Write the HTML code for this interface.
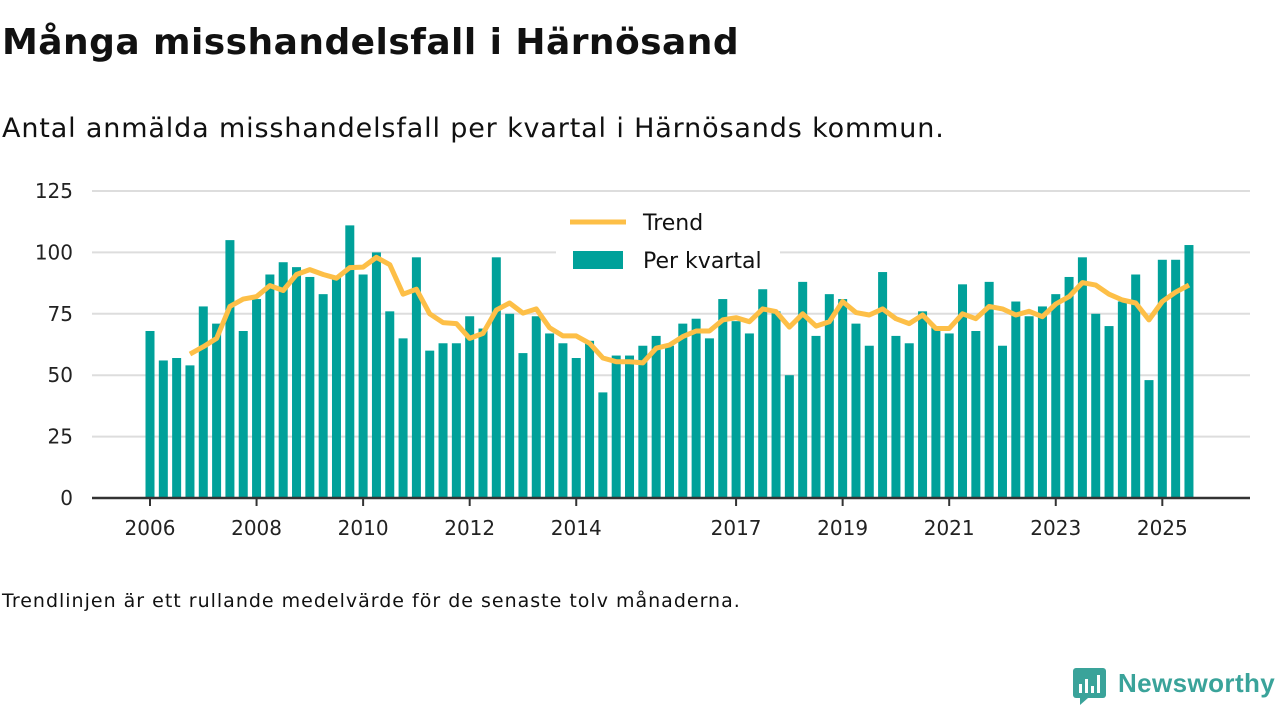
<!DOCTYPE html>
<html><head><meta charset="utf-8">
<style>
body{margin:0;background:#fff;width:1280px;height:720px;overflow:hidden;font-family:"DejaVu Sans","Liberation Sans",sans-serif;color:#111}
h1{position:absolute;left:2px;top:22px;margin:0;font-size:36px;font-weight:bold;letter-spacing:0.45px}
.sub{position:absolute;left:2px;top:113px;font-size:27px;letter-spacing:0.85px}
.note{position:absolute;left:2px;top:590px;font-size:19px;letter-spacing:1px}
.logo{position:absolute;left:1072px;top:666px}
.logo span{position:absolute;left:46px;top:2px;font-size:26px;font-weight:bold;color:#3aa39a;white-space:nowrap;font-family:"Liberation Sans",sans-serif;letter-spacing:0.4px}
</style></head><body>
<h1>Många misshandelsfall i Härnösand</h1>
<div class="sub">Antal anmälda misshandelsfall per kvartal i Härnösands kommun.</div>
<svg id="chart" width="1280" height="720" style="position:absolute;left:0;top:0"></svg>
<div class="note">Trendlinjen är ett rullande medelvärde för de senaste tolv månaderna.</div>
<div class="logo">
<svg width="36" height="40"><rect x="1" y="2" width="33" height="30" rx="3" fill="#3aa39a"/><path d="M8 32 L8 39 L16 32Z" fill="#3aa39a"/><rect x="7" y="18" width="3" height="9" fill="#fff"/><rect x="13" y="13" width="3" height="14" fill="#fff"/><rect x="19" y="20" width="3" height="7" fill="#fff"/><rect x="25" y="9" width="3" height="18" fill="#fff"/></svg>
<span>Newsworthy</span></div>
<script>
const values=[68,56,57,54,78,71,105,68,81,91,96,94,90,83,90,111,91,100,76,65,98,60,63,63,74,69,98,75,59,74,67,63,57,64,43,58,58,62,66,62,71,73,65,81,72,67,85,76,50,88,66,83,81,71,62,92,66,63,76,70,67,87,68,88,62,80,74,78,83,90,98,75,70,80,91,48,97,97,103];
const trendStart=3;
const trend=[58.6,61.6,65,78,81,82,86.5,84.5,91,93,91,89.5,93.8,94,98,95,83,85,75,71.4,71,65,67,76.5,79.4,75.3,77,69.3,66,66,63,57,55.5,55.5,55,61,62.3,65.7,68,68,72.5,73.4,71.8,77,75.9,69.6,75,70,71.8,80,75.5,74.5,77,73,71,74.5,69,69,75,73,78,77,74.5,76,73.8,79,82,87.7,86.7,83,80.6,79.4,72.5,80,83.8,86.7];
const yTicks=[0,25,50,75,100,125];
const xYears=[2006,2008,2010,2012,2014,2017,2019,2021,2023,2025];
const ns="http://www.w3.org/2000/svg",svg=document.getElementById('chart');
const x=i=>150+i*13.32, y=v=>498-v*2.456;
function mk(t,a){const e=document.createElementNS(ns,t);for(const k in a)e.setAttribute(k,a[k]);svg.appendChild(e);return e;}
yTicks.forEach(v=>{
 if(v>0){const g=mk('line',{x1:92,x2:1250,y1:y(v),y2:y(v),stroke:'#ddd','stroke-width':2});
 
 }
 const t=mk('text',{x:73,y:y(v)+7,'text-anchor':'end','font-size':20,fill:'#222'});t.textContent=v;
 
 
});
values.forEach((v,i)=>{const b=mk('rect',{x:x(i)-4.5,y:y(v),width:9,height:v*2.456,fill:'#00a19a'});
 
 });
const ax=mk('line',{x1:92,x2:1250,y1:498,y2:498,stroke:'#333','stroke-width':2.5});


xYears.forEach(yr=>{const i=(yr-2006)*4;
 const tk=mk('line',{x1:x(i),x2:x(i),y1:499,y2:506,stroke:'#333','stroke-width':2});
 
 
 const t=mk('text',{x:x(i),y:535,'text-anchor':'middle','font-size':20,fill:'#222'});t.textContent=yr;
 
 });
const pts=trend.map((v,k)=>x(k+trendStart).toFixed(1)+','+y(v).toFixed(1)).join(' ');
const pl=mk('polyline',{points:pts,fill:'none',stroke:'#fdbf47','stroke-width':5,'stroke-linejoin':'round'});


const lb=mk('rect',{x:556,y:200,width:224,height:80,fill:'#fff'});


const l1=mk('line',{x1:570,x2:626,y1:222,y2:222,stroke:'#fdbf47','stroke-width':5});


const t1=mk('text',{x:643,y:230,'font-size':22,fill:'#111'});t1.textContent='Trend';


const r2=mk('rect',{x:573,y:251,width:50,height:18,fill:'#00a19a'});


const t2=mk('text',{x:643,y:268,'font-size':22,fill:'#111'});t2.textContent='Per kvartal';


</script>
</body></html>
